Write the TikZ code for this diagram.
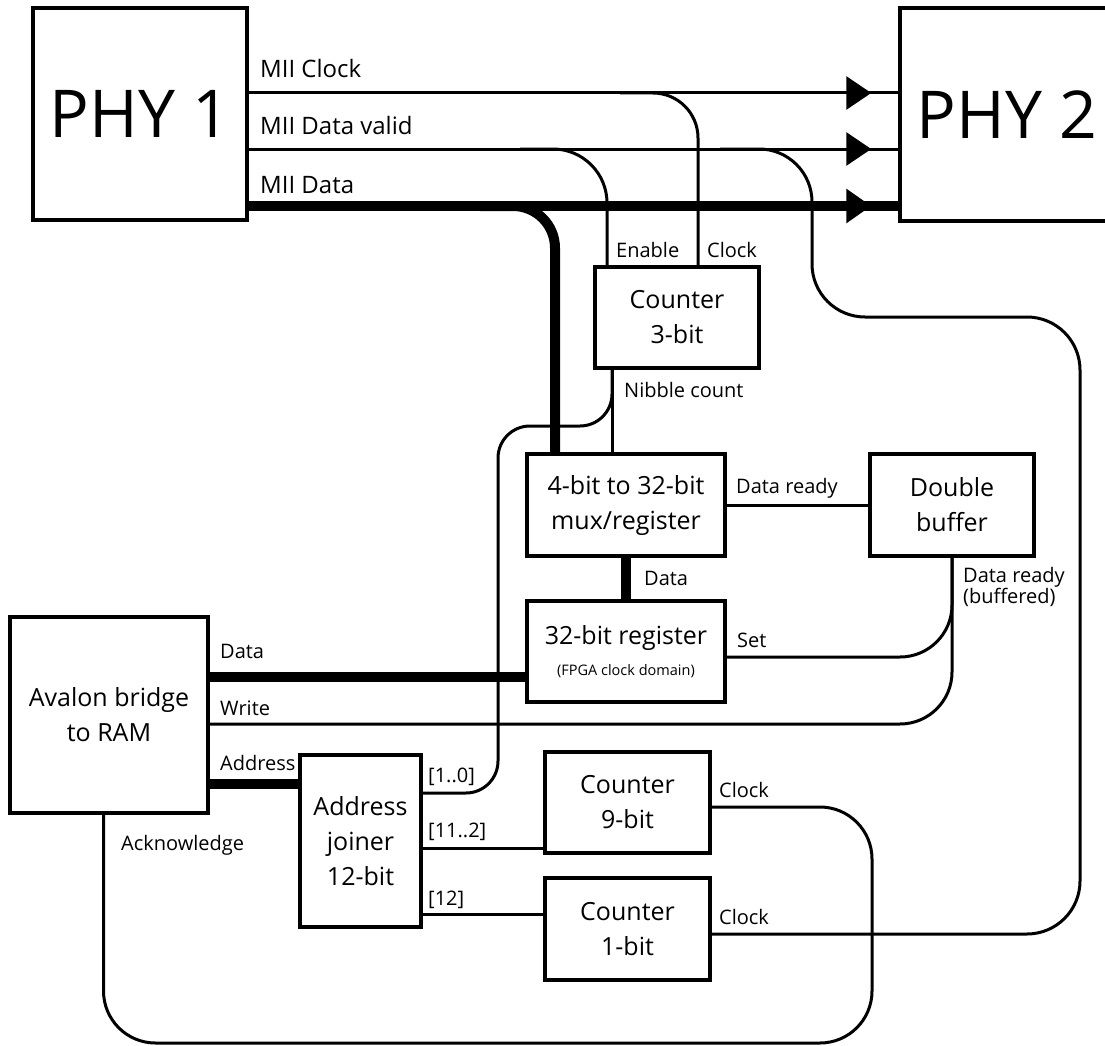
\documentclass[tikz,border=0pt]{standalone}
\usepackage{fontspec}
\setmainfont{Open Sans}
\usepackage{tikz}
\usetikzlibrary{arrows.meta,decorations.markings}

\begin{document}
\begin{tikzpicture}[
    x=1pt, y=-1pt,
    block/.style={rectangle, draw, line width=3.5pt, align=center, inner sep=0pt, font=\fontsize{25}{35}\selectfont},
    sig/.style={line width=3pt},
    bus/.style={line width=10pt},
    lbl/.style={anchor=base west, inner sep=0pt, font=\fontsize{20}{21}\selectfont},
    miilbl/.style={anchor=base west, inner sep=0pt, font=\fontsize{24}{28}\selectfont},
    tophy/.style={postaction={decorate}, decoration={markings,
        mark=at position -27pt with {\arrow{Triangle[length=25pt,width=33pt]}}}}
]
    \useasboundingbox (0,0) rectangle (1105,1046);

    % blocks
    \node[block, minimum width=214pt, minimum height=212pt, font=\fontsize{66}{70}\selectfont] (phyA) at (140,114) {PHY 1};
    \node[block, minimum width=214pt, minimum height=213pt, font=\fontsize{66}{70}\selectfont] (phyB) at (1007,114.5) {PHY 2};
    \node[block, minimum width=164pt, minimum height=101pt] (cnt3) at (677,317.5) {Counter\\3-bit};
    \node[block, minimum width=198pt, minimum height=102pt] (mux) at (626,505) {4-bit to 32-bit\\mux/register};
    \node[block, minimum width=164pt, minimum height=102pt] (dbuf) at (952,505) {Double\\buffer};
    \node[block, minimum width=198pt, minimum height=101pt] (reg) at (626,651.5) {32-bit register\\[-4pt]{\fontsize{14.5}{18}\selectfont (FPGA clock domain)}};
    \node[block, minimum width=198pt, minimum height=196pt] (avalon) at (109,715) {Avalon bridge\\to RAM};
    \node[block, minimum width=121pt, minimum height=172pt] (joiner) at (360.5,841) {Address\\joiner\\12-bit};
    \node[block, minimum width=165pt, minimum height=101pt] (cnt9) at (627.5,802.5) {Counter\\9-bit};
    \node[block, minimum width=165pt, minimum height=102pt] (cnt1) at (627.5,929) {Counter\\1-bit};

    % MII levels
    \coordinate (clkY) at (0,93);
    \coordinate (dvY) at (0,149);
    \coordinate (datY) at (0,206);

    % PHY 1 to PHY 2
    \draw[sig, tophy] (phyA.east |- clkY) -- (phyB.west |- clkY);
    \draw[sig, tophy] (phyA.east |- dvY) -- (phyB.west |- dvY);
    \draw[bus, tophy] (phyA.east |- datY) -- (phyB.west |- datY);

    % taps off the MII lines
    \draw[sig, rounded corners=45pt] (620,93) -| ([xshift=21pt]cnt3.north);
    \draw[sig, rounded corners=54pt] (520,149) -| ([xshift=-70pt]cnt3.north);
    \draw[bus, rounded corners=42pt] (480,206) -| ([xshift=-71pt]mux.north);
    \draw[sig, rounded corners=53pt] (720,149) -| (812,317) -- (1080,317) |- ([yshift=-5pt]cnt1.east);

    % nibble count
    \draw[sig] ([xshift=-65pt]cnt3.south) -- ([xshift=-65pt]cnt3.south |- mux.north);
    \draw[sig, rounded corners=32pt] ([xshift=-65pt]cnt3.south) |- (498,426) |- ([yshift=48pt]joiner.east);

    % data path
    \draw[sig] (mux.east) -- (dbuf.west);
    \draw[bus] (mux.south) -- (reg.north);
    \draw[bus] ([yshift=38pt]avalon.east) -- ([yshift=38pt]avalon.east -| reg.west);
    \draw[sig, rounded corners=52pt] ([yshift=-5.5pt]reg.east) -| (dbuf.south);
    \draw[sig, rounded corners=52pt] ([yshift=-9pt]avalon.east) -| (dbuf.south);

    % address
    \draw[bus] ([yshift=-69pt]avalon.east) -- ([yshift=-69pt]avalon.east -| joiner.west);
    \draw[sig] ([yshift=-7pt]joiner.east) -- ([yshift=-7pt]joiner.east -| cnt9.west);
    \draw[sig] ([yshift=-73pt]joiner.east) -- ([yshift=-73pt]joiner.east -| cnt1.west);
    \draw[sig, rounded corners=52pt] ([yshift=-4.5pt]cnt9.east) -| (872,1043) -| ([xshift=-5.5pt]avalon.south);

    % labels
    \node[miilbl] (lclk) at (260,78) {MII Clock};
    \node[miilbl] (ldv) at (260,135) {MII Data valid};
    \node[miilbl] (ldat) at (260,193) {MII Data};
    \node[lbl] (len) at (616,257) {Enable};
    \node[lbl] (lck) at (707,257) {Clock};
    \node[lbl] (lnib) at (624,397) {Nibble count};
    \node[lbl] (lrdy) at (736,493) {Data ready};
    \node[lbl] (lmd) at (644,585) {Data};
    \node[lbl] (lset) at (737,647) {Set};
    \node[lbl, align=left] (lrdyb) at (963,603) {Data ready\\(buffered)};
    \node[lbl] (lad) at (220,658) {Data};
    \node[lbl] (lwr) at (220,715) {Write};
    \node[lbl] (ladr) at (220,770) {Address};
    \node[lbl] (lack) at (121,850) {Acknowledge};
    \node[lbl] (lb10) at (428,782) {[1..0]};
    \node[lbl] (lb112) at (428,837) {[11..2]};
    \node[lbl] (lb12) at (428,905) {[12]};
    \node[lbl] (lck9) at (719,797) {Clock};
    \node[lbl] (lck1) at (719,924) {Clock};
\end{tikzpicture}
\end{document}
